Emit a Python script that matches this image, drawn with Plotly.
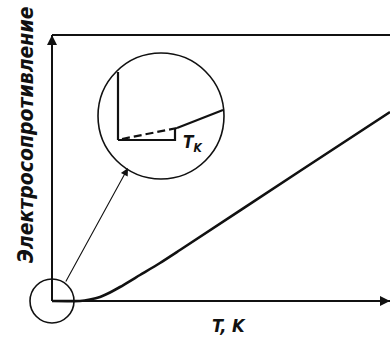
import plotly.graph_objects as go

# main curve: resistance vs temperature (schematic units)
temp = [0, 28, 38, 48, 58, 68, 88, 108, 128, 248, 338]
resist = [0, 0, 1.5, 4, 8.5, 14, 26, 38, 51, 130, 189]

# axes frame
axis_x = [0, 338]
axis_top = 266

# magnified inset near T_k
inset_vert_x = [66, 66]
inset_vert_y = [229, 161]
inset_low_x = [66, 123, 123]
inset_low_y = [161, 161, 173]
inset_dash_x = [70, 125]
inset_dash_y = [162, 173]
inset_norm_x = [125, 171]
inset_norm_y = [173, 191]

# circles (center x, center y, radius)
zoom_circle = (0, 0, 22)
inset_circle = (109, 185, 63)

# pointer from small circle to inset
pointer_from = (13, 18)
pointer_to = (76, 133)

ink = "#111111"
label_font = "Liberation Sans Narrow, DejaVu Sans Condensed"

fig = go.Figure()

def add_line(xs, ys, width, dash="solid"):
    fig.add_trace(go.Scatter(x=xs, y=ys, mode="lines",
                             line=dict(color=ink, width=width, dash=dash),
                             hoverinfo="skip", showlegend=False))

# frame: y axis, top line, x axis
add_line([0, 0], [0, axis_top], 2)
add_line(axis_x, [axis_top, axis_top], 2)
add_line(axis_x, [0, 0], 2)

# curve
fig.add_trace(go.Scatter(x=temp, y=resist, mode="lines",
                         line=dict(color=ink, width=2.6, shape="spline", smoothing=0.6),
                         hoverinfo="skip", showlegend=False))

# inset
add_line(inset_vert_x, inset_vert_y, 2.2)
add_line(inset_low_x, inset_low_y, 2.2)
add_line(inset_dash_x, inset_dash_y, 2.2, dash="8px,4px")
add_line(inset_norm_x, inset_norm_y, 2.2)

for cx, cy, r in (zoom_circle, inset_circle):
    fig.add_shape(type="circle", xref="x", yref="y",
                  x0=cx - r, x1=cx + r, y0=cy - r, y1=cy + r,
                  line=dict(color=ink, width=1.6))

# axis arrow heads
fig.add_annotation(x=0, y=axis_top, ax=0, ay=axis_top - 20, xref="x", yref="y",
                   axref="x", ayref="y", showarrow=True, arrowhead=2,
                   arrowsize=1, arrowwidth=2, arrowcolor=ink, text="")
fig.add_annotation(x=axis_x[1], y=0, ax=axis_x[1] - 20, ay=0, xref="x", yref="y",
                   axref="x", ayref="y", showarrow=True, arrowhead=2,
                   arrowsize=1, arrowwidth=2, arrowcolor=ink, text="")

# pointer arrow
fig.add_annotation(x=pointer_to[0], y=pointer_to[1], ax=pointer_from[0], ay=pointer_from[1],
                   xref="x", yref="y", axref="x", ayref="y", showarrow=True,
                   arrowhead=2, arrowsize=1.4, arrowwidth=1.1, arrowcolor=ink, text="")

# labels
fig.add_annotation(x=140, y=158, xref="x", yref="y", showarrow=False,
                   text="<b><i>T<sub>K</sub></i></b>",
                   font=dict(family=label_font, size=17, color=ink))
fig.add_annotation(x=177, y=-24, xref="x", yref="y", showarrow=False,
                   text="<b><i>T, K</i></b>",
                   font=dict(family=label_font, size=18, color=ink))
fig.add_annotation(x=-26, y=166, xref="x", yref="y", showarrow=False, textangle=-90,
                   text="<b><i>Электросопротивление</i></b>",
                   font=dict(family=label_font, size=21, color=ink))

fig.update_xaxes(range=[-52, 338], visible=False, fixedrange=True)
fig.update_yaxes(range=[-40, 301], visible=False, fixedrange=True)
fig.update_layout(width=390, height=341, autosize=False,
                  margin=dict(l=0, r=0, t=0, b=0),
                  paper_bgcolor="white", plot_bgcolor="white")

fig.write_html("out.html", config={"displayModeBar": False},
               post_script="document.body.style.margin='0px';")
